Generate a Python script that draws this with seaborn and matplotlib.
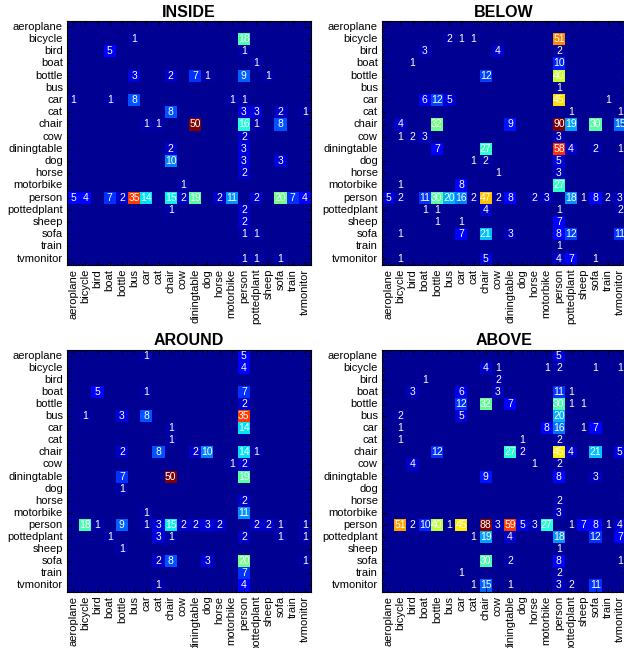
import numpy as np
import matplotlib
matplotlib.use('Agg')
import matplotlib.pyplot as plt
from matplotlib.colors import ListedColormap
import seaborn as sns

plt.rcParams['font.family'] = ['Liberation Sans', 'DejaVu Sans']

classes = ['aeroplane', 'bicycle', 'bird', 'boat', 'bottle', 'bus', 'car', 'cat',
           'chair', 'cow', 'diningtable', 'dog', 'horse', 'motorbike', 'person',
           'pottedplant', 'sheep', 'sofa', 'train', 'tvmonitor']

# rows = subject, columns = object (same class order)
inside = [
    [0, 0, 0, 0, 0, 0, 0, 0, 0, 0, 0, 0, 0, 0, 0, 0, 0, 0, 0, 0],
    [0, 0, 0, 0, 0, 1, 0, 0, 0, 0, 0, 0, 0, 0, 18, 0, 0, 0, 0, 0],
    [0, 0, 0, 5, 0, 0, 0, 0, 0, 0, 0, 0, 0, 0, 1, 0, 0, 0, 0, 0],
    [0, 0, 0, 0, 0, 0, 0, 0, 0, 0, 0, 0, 0, 0, 0, 1, 0, 0, 0, 0],
    [0, 0, 0, 0, 0, 3, 0, 0, 2, 0, 7, 1, 0, 0, 9, 0, 1, 0, 0, 0],
    [0, 0, 0, 0, 0, 0, 0, 0, 0, 0, 0, 0, 0, 0, 0, 0, 0, 0, 0, 0],
    [1, 0, 0, 1, 0, 8, 0, 0, 0, 0, 0, 0, 0, 1, 1, 0, 0, 0, 0, 0],
    [0, 0, 0, 0, 0, 0, 0, 0, 8, 0, 0, 0, 0, 0, 3, 3, 0, 2, 0, 1],
    [0, 0, 0, 0, 0, 0, 1, 1, 0, 0, 50, 0, 0, 0, 16, 1, 0, 8, 0, 0],
    [0, 0, 0, 0, 0, 0, 0, 0, 0, 0, 0, 0, 0, 0, 2, 0, 0, 0, 0, 0],
    [0, 0, 0, 0, 0, 0, 0, 0, 2, 0, 0, 0, 0, 0, 3, 0, 0, 0, 0, 0],
    [0, 0, 0, 0, 0, 0, 0, 0, 10, 0, 0, 0, 0, 0, 3, 0, 0, 3, 0, 0],
    [0, 0, 0, 0, 0, 0, 0, 0, 0, 0, 0, 0, 0, 0, 2, 0, 0, 0, 0, 0],
    [0, 0, 0, 0, 0, 0, 0, 0, 0, 1, 0, 0, 0, 0, 0, 0, 0, 0, 0, 0],
    [5, 4, 0, 7, 2, 35, 14, 0, 15, 2, 19, 0, 2, 11, 0, 2, 0, 20, 7, 4],
    [0, 0, 0, 0, 0, 0, 0, 0, 1, 0, 0, 0, 0, 0, 2, 0, 0, 0, 0, 0],
    [0, 0, 0, 0, 0, 0, 0, 0, 0, 0, 0, 0, 0, 0, 2, 0, 0, 0, 0, 0],
    [0, 0, 0, 0, 0, 0, 0, 0, 0, 0, 0, 0, 0, 0, 1, 1, 0, 0, 0, 0],
    [0, 0, 0, 0, 0, 0, 0, 0, 0, 0, 0, 0, 0, 0, 0, 0, 0, 0, 0, 0],
    [0, 0, 0, 0, 0, 0, 0, 0, 0, 0, 0, 0, 0, 0, 1, 1, 0, 1, 0, 0],
]

below = [
    [0, 0, 0, 0, 0, 0, 0, 0, 0, 0, 0, 0, 0, 0, 0, 0, 0, 0, 0, 0],
    [0, 0, 0, 0, 0, 2, 1, 1, 0, 0, 0, 0, 0, 0, 51, 0, 0, 0, 0, 0],
    [0, 0, 0, 3, 0, 0, 0, 0, 0, 4, 0, 0, 0, 0, 2, 0, 0, 0, 0, 0],
    [0, 0, 1, 0, 0, 0, 0, 0, 0, 0, 0, 0, 0, 0, 10, 0, 0, 0, 0, 0],
    [0, 0, 0, 0, 0, 0, 0, 0, 12, 0, 0, 0, 0, 0, 40, 0, 0, 0, 0, 0],
    [0, 0, 0, 0, 0, 0, 0, 0, 0, 0, 0, 0, 0, 0, 1, 0, 0, 0, 0, 0],
    [0, 0, 0, 6, 12, 5, 0, 0, 0, 0, 0, 0, 0, 0, 45, 0, 0, 0, 1, 0],
    [0, 0, 0, 0, 0, 0, 0, 0, 0, 0, 0, 0, 0, 0, 0, 1, 0, 0, 0, 1],
    [0, 4, 0, 0, 32, 0, 0, 0, 0, 0, 9, 0, 0, 0, 90, 19, 0, 30, 0, 15],
    [0, 1, 2, 3, 0, 0, 0, 0, 0, 0, 0, 0, 0, 0, 3, 0, 0, 0, 0, 0],
    [0, 0, 0, 0, 7, 0, 0, 0, 27, 0, 0, 0, 0, 0, 58, 4, 0, 2, 0, 1],
    [0, 0, 0, 0, 0, 0, 0, 1, 2, 0, 0, 0, 0, 0, 5, 0, 0, 0, 0, 0],
    [0, 0, 0, 0, 0, 0, 0, 0, 0, 1, 0, 0, 0, 0, 3, 0, 0, 0, 0, 0],
    [0, 1, 0, 0, 0, 0, 8, 0, 0, 0, 0, 0, 0, 0, 27, 0, 0, 0, 0, 0],
    [5, 2, 0, 11, 30, 20, 16, 2, 47, 2, 8, 0, 2, 3, 0, 18, 1, 8, 2, 3],
    [0, 0, 0, 1, 1, 0, 0, 0, 4, 0, 0, 0, 0, 0, 1, 0, 0, 0, 0, 2],
    [0, 0, 0, 0, 1, 0, 1, 0, 0, 0, 0, 0, 0, 0, 7, 0, 0, 0, 0, 0],
    [0, 1, 0, 0, 0, 0, 7, 0, 21, 0, 3, 0, 0, 0, 8, 12, 0, 0, 0, 11],
    [0, 0, 0, 0, 0, 0, 0, 0, 0, 0, 0, 0, 0, 0, 1, 0, 0, 0, 0, 0],
    [0, 1, 0, 0, 0, 0, 0, 0, 5, 0, 0, 0, 0, 0, 4, 7, 0, 1, 0, 0],
]

around = [
    [0, 0, 0, 0, 0, 0, 1, 0, 0, 0, 0, 0, 0, 0, 5, 0, 0, 0, 0, 0],
    [0, 0, 0, 0, 0, 0, 0, 0, 0, 0, 0, 0, 0, 0, 4, 0, 0, 0, 0, 0],
    [0, 0, 0, 0, 0, 0, 0, 0, 0, 0, 0, 0, 0, 0, 0, 0, 0, 0, 0, 0],
    [0, 0, 5, 0, 0, 0, 1, 0, 0, 0, 0, 0, 0, 0, 7, 0, 0, 0, 0, 0],
    [0, 0, 0, 0, 0, 0, 0, 0, 0, 0, 0, 0, 0, 0, 2, 0, 0, 0, 0, 0],
    [0, 1, 0, 0, 3, 0, 8, 0, 0, 0, 0, 0, 0, 0, 35, 0, 0, 0, 0, 0],
    [0, 0, 0, 0, 0, 0, 0, 0, 1, 0, 0, 0, 0, 0, 14, 0, 0, 0, 0, 0],
    [0, 0, 0, 0, 0, 0, 0, 0, 1, 0, 0, 0, 0, 0, 0, 0, 0, 0, 0, 0],
    [0, 0, 0, 0, 2, 0, 0, 8, 0, 0, 2, 10, 0, 0, 14, 1, 0, 0, 0, 0],
    [0, 0, 0, 0, 0, 0, 0, 0, 0, 0, 0, 0, 0, 1, 2, 0, 0, 0, 0, 0],
    [0, 0, 0, 0, 7, 0, 0, 0, 50, 0, 0, 0, 0, 0, 19, 0, 0, 0, 0, 0],
    [0, 0, 0, 0, 1, 0, 0, 0, 0, 0, 0, 0, 0, 0, 0, 0, 0, 0, 0, 0],
    [0, 0, 0, 0, 0, 0, 0, 0, 0, 0, 0, 0, 0, 0, 2, 0, 0, 0, 0, 0],
    [0, 0, 0, 0, 0, 0, 1, 0, 0, 0, 0, 0, 0, 0, 11, 0, 0, 0, 0, 0],
    [0, 18, 1, 0, 9, 0, 1, 3, 15, 2, 2, 3, 2, 0, 0, 2, 2, 1, 0, 1],
    [0, 0, 0, 1, 0, 0, 0, 3, 1, 0, 0, 0, 0, 0, 2, 0, 0, 1, 0, 1],
    [0, 0, 0, 0, 1, 0, 0, 0, 0, 0, 0, 0, 0, 0, 0, 0, 0, 0, 0, 0],
    [0, 0, 0, 0, 0, 0, 0, 2, 8, 0, 0, 3, 0, 0, 20, 0, 0, 0, 0, 1],
    [0, 0, 0, 0, 0, 0, 0, 0, 0, 0, 0, 0, 0, 0, 7, 0, 0, 0, 0, 0],
    [0, 0, 0, 0, 0, 0, 0, 1, 0, 0, 0, 0, 0, 0, 4, 0, 0, 0, 0, 0],
]

above = [
    [0, 0, 0, 0, 0, 0, 0, 0, 0, 0, 0, 0, 0, 0, 5, 0, 0, 0, 0, 0],
    [0, 0, 0, 0, 0, 0, 0, 0, 4, 1, 0, 0, 0, 1, 2, 0, 0, 1, 0, 1],
    [0, 0, 0, 1, 0, 0, 0, 0, 0, 2, 0, 0, 0, 0, 0, 0, 0, 0, 0, 0],
    [0, 0, 3, 0, 0, 0, 6, 0, 0, 3, 0, 0, 0, 0, 11, 1, 0, 0, 0, 0],
    [0, 0, 0, 0, 0, 0, 12, 0, 32, 0, 7, 0, 0, 0, 30, 1, 1, 0, 0, 0],
    [0, 2, 0, 0, 0, 0, 5, 0, 0, 0, 0, 0, 0, 0, 20, 0, 0, 0, 0, 0],
    [0, 1, 0, 0, 0, 0, 0, 0, 0, 0, 0, 0, 0, 8, 16, 0, 1, 7, 0, 0],
    [0, 1, 0, 0, 0, 0, 0, 0, 0, 0, 0, 1, 0, 0, 2, 0, 0, 0, 0, 0],
    [0, 0, 0, 0, 12, 0, 0, 0, 0, 0, 27, 2, 0, 0, 45, 4, 0, 21, 0, 5],
    [0, 0, 4, 0, 0, 0, 0, 0, 0, 0, 0, 0, 1, 0, 2, 0, 0, 0, 0, 0],
    [0, 0, 0, 0, 0, 0, 0, 0, 9, 0, 0, 0, 0, 0, 8, 0, 0, 3, 0, 0],
    [0, 0, 0, 0, 0, 0, 0, 0, 0, 0, 0, 0, 0, 0, 0, 0, 0, 0, 0, 0],
    [0, 0, 0, 0, 0, 0, 0, 0, 0, 0, 0, 0, 0, 0, 2, 0, 0, 0, 0, 0],
    [0, 0, 0, 0, 0, 0, 0, 0, 0, 0, 0, 0, 0, 0, 3, 0, 0, 0, 0, 0],
    [0, 51, 2, 10, 40, 1, 45, 0, 88, 3, 59, 5, 3, 27, 0, 1, 7, 8, 1, 4],
    [0, 0, 0, 0, 0, 0, 0, 1, 19, 0, 4, 0, 0, 0, 18, 0, 0, 12, 0, 7],
    [0, 0, 0, 0, 0, 0, 0, 0, 0, 0, 0, 0, 0, 0, 1, 0, 0, 0, 0, 0],
    [0, 0, 0, 0, 0, 0, 0, 0, 30, 0, 2, 0, 0, 0, 8, 0, 0, 0, 0, 1],
    [0, 0, 0, 0, 0, 0, 1, 0, 0, 0, 0, 0, 0, 0, 2, 0, 0, 0, 0, 0],
    [0, 0, 0, 0, 0, 0, 0, 1, 15, 0, 1, 0, 0, 0, 3, 2, 0, 11, 0, 0],
]

# MATLAB-style jet(64)
jet64 = ListedColormap(plt.get_cmap('jet')(np.linspace(1 / 64, 1, 64)))

W, H = 624, 648
fig = plt.figure(figsize=(W / 100, H / 100), dpi=100)

# (title, matrix, colour limit, left px, top px, width px, height px)
# the right column runs past the figure edge, as in the original
panels = [
    ('INSIDE', inside, 42, 67, 20.7, 244, 244),
    ('BELOW', below, 68, 382, 20.7, 244, 244),
    ('AROUND', around, 42, 67, 349.5, 244, 242),
    ('ABOVE', above, 70, 382, 349.5, 244, 242),
]

for title, mat, cmax, x0, y0, w, h in panels:
    ax = fig.add_axes([x0 / W, 1 - (y0 + h) / H, w / W, h / H])
    data = np.array(mat)
    labels = np.where(data > 0, data.astype(str), '')
    sns.heatmap(data, ax=ax, cmap=jet64, vmin=0, vmax=cmax, cbar=False,
                annot=labels, fmt='', annot_kws=dict(color='white', fontsize=7.5),
                xticklabels=classes, yticklabels=classes)
    ax.set_title(title, fontsize=11.5, fontweight='bold', pad=3)
    for s in ax.spines.values():
        s.set_visible(True)
        s.set_color('black')
        s.set_linewidth(0.8)
    ax.tick_params(direction='in', length=3, width=0.6, top=True, right=True,
                   labelsize=8, pad=3, colors='black')
    plt.setp(ax.get_xticklabels(), rotation=90)
    plt.setp(ax.get_yticklabels(), rotation=0)

fig.savefig('out.png', dpi=100)
